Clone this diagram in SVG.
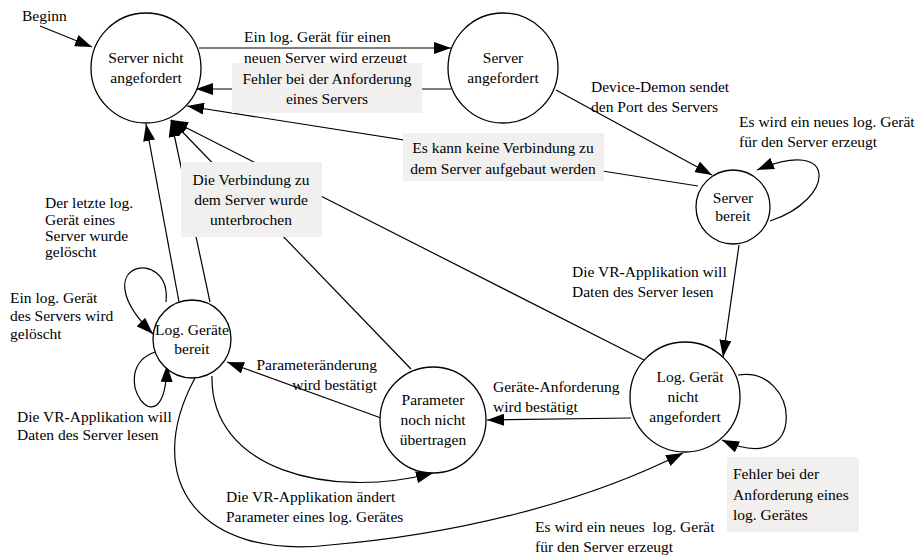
<svg xmlns="http://www.w3.org/2000/svg" width="920" height="555" viewBox="0 0 920 555" font-family="'Liberation Serif', 'Times New Roman', Times, serif">
<style>
text{font-family:'Liberation Serif','Times New Roman',Times,serif;font-size:15.5px;fill:#000}
.c{text-anchor:middle}
.e{text-anchor:end}
.node circle{fill:#fff;stroke:#000;stroke-width:1.3}
.edges path,.edges line{fill:none;stroke:#000;stroke-width:1.2;marker-end:url(#ah)}
.box{fill:#f1f0ee;stroke:none}
.b{font-weight:bold}
</style>
<defs>
<marker id="ah" viewBox="0 0 17 12" refX="17" refY="6" markerWidth="17" markerHeight="12" markerUnits="userSpaceOnUse" orient="auto">
<path d="M0,0 L17,6 L0,12 z" fill="#000"/>
</marker>
</defs>
<g class="edges">
<line x1="40" y1="26" x2="92" y2="47"/>
<line x1="199" y1="48" x2="451" y2="48"/>
<line x1="451" y1="89" x2="196" y2="89"/>
<line x1="698" y1="186" x2="187" y2="106"/>
<line x1="556" y1="90" x2="712" y2="175"/>
<path d="M770,221 C835,200 840,135 757,170"/>
<line x1="739" y1="245" x2="723" y2="357"/>
<path d="M738,375 C800,365 810,480 722,440"/>
<line x1="631" y1="418" x2="487" y2="420"/>
<line x1="381" y1="418" x2="227" y2="362"/>
<path d="M212,376 C210,470 330,500 433,473"/>
<path d="M195,378 C140,480 200,560 330,545 C450,535 580,505 683,453"/>
<line x1="179" y1="302" x2="146" y2="124"/>
<line x1="210" y1="302" x2="171" y2="120"/>
<line x1="411" y1="369" x2="171" y2="120"/>
<line x1="644" y1="360" x2="171" y2="120"/>
<path d="M166,302 C172,245 80,262 153,334"/>
<path d="M155,352 C103,370 165,458 167,365"/>
</g>
<g id="labels">
<text x="22" y="21">Beginn</text>
<text x="244" y="42">Ein log. Gerät für einen</text>
<text x="244" y="63">neuen Server wird erzeugt</text>
<rect class="box" x="232" y="63" width="190" height="50"/>
<text class="c" x="327" y="84">Fehler bei der Anforderung</text>
<text class="c" x="327" y="104">eines Servers</text>
<text x="591" y="92">Device<tspan class="b">-</tspan>Demon sendet</text>
<text x="591" y="112">den Port des Servers</text>
<rect class="box" x="403" y="133" width="201" height="48"/>
<text class="c" x="503" y="153">Es kann keine Verbindung zu</text>
<text class="c" x="503" y="174">dem Server aufgebaut werden</text>
<text x="739" y="127">Es wird ein neues log. Gerät</text>
<text x="739" y="147">für den Server erzeugt</text>
<rect class="box" x="181" y="162" width="141" height="75"/>
<text class="c" x="251" y="185">Die Verbindung zu</text>
<text class="c" x="251" y="205">dem Server wurde</text>
<text class="c" x="251" y="225">unterbrochen</text>
<text x="45" y="208">Der letzte log.</text>
<text x="45" y="225">Gerät eines</text>
<text x="45" y="241">Server wurde</text>
<text x="45" y="257">gelöscht</text>
<text x="10" y="303">Ein log. Gerät</text>
<text x="10" y="321">des Servers wird</text>
<text x="10" y="339">gelöscht</text>
<text x="17" y="422">Die VR<tspan class="b">-</tspan>Applikation will</text>
<text x="17" y="440">Daten des Server lesen</text>
<text x="572" y="277">Die VR<tspan class="b">-</tspan>Applikation will</text>
<text x="572" y="297">Daten des Server lesen</text>
<text class="e" x="377" y="370">Parameteränderung</text>
<text class="e" x="377" y="390">wird bestätigt</text>
<text x="493" y="392">Geräte<tspan class="b">-</tspan>Anforderung</text>
<text x="493" y="412">wird bestätigt</text>
<text x="226" y="502">Die VR<tspan class="b">-</tspan>Applikation ändert</text>
<text x="226" y="522">Parameter eines log. Gerätes</text>
<text x="535" y="532">Es wird ein neues&#160; log. Gerät</text>
<text x="535" y="552">für den Server erzeugt</text>
<rect class="box" x="727" y="457" width="132" height="75"/>
<text x="733" y="479">Fehler bei der</text>
<text x="733" y="500">Anforderung eines</text>
<text x="733" y="520">log. Gerätes</text>
</g>
<g id="n1" class="node"><circle cx="146" cy="68" r="55"/><text class="c" x="146" y="63">Server nicht</text><text class="c" x="146" y="83">angefordert</text></g>
<g id="n2" class="node"><circle cx="503" cy="68" r="55"/><text class="c" x="503" y="63">Server</text><text class="c" x="503" y="83">angefordert</text></g>
<g id="n3" class="node"><circle cx="733" cy="207" r="37"/><text class="c" x="733" y="203">Server</text><text class="c" x="733" y="221">bereit</text></g>
<g id="n4" class="node"><circle cx="192" cy="339" r="39"/><text class="c" x="192" y="335">Log. Geräte</text><text class="c" x="192" y="354">bereit</text></g>
<g id="n5" class="node"><circle cx="433" cy="420" r="53"/><text class="c" x="433" y="405">Parameter</text><text class="c" x="433" y="425">noch nicht</text><text class="c" x="433" y="445">übertragen</text></g>
<g id="n6" class="node"><circle cx="685" cy="397" r="55"/><text class="c" x="690" y="382">Log. Gerät</text><text class="c" x="683" y="402">nicht</text><text class="c" x="685" y="422">angefordert</text></g>
</svg>
